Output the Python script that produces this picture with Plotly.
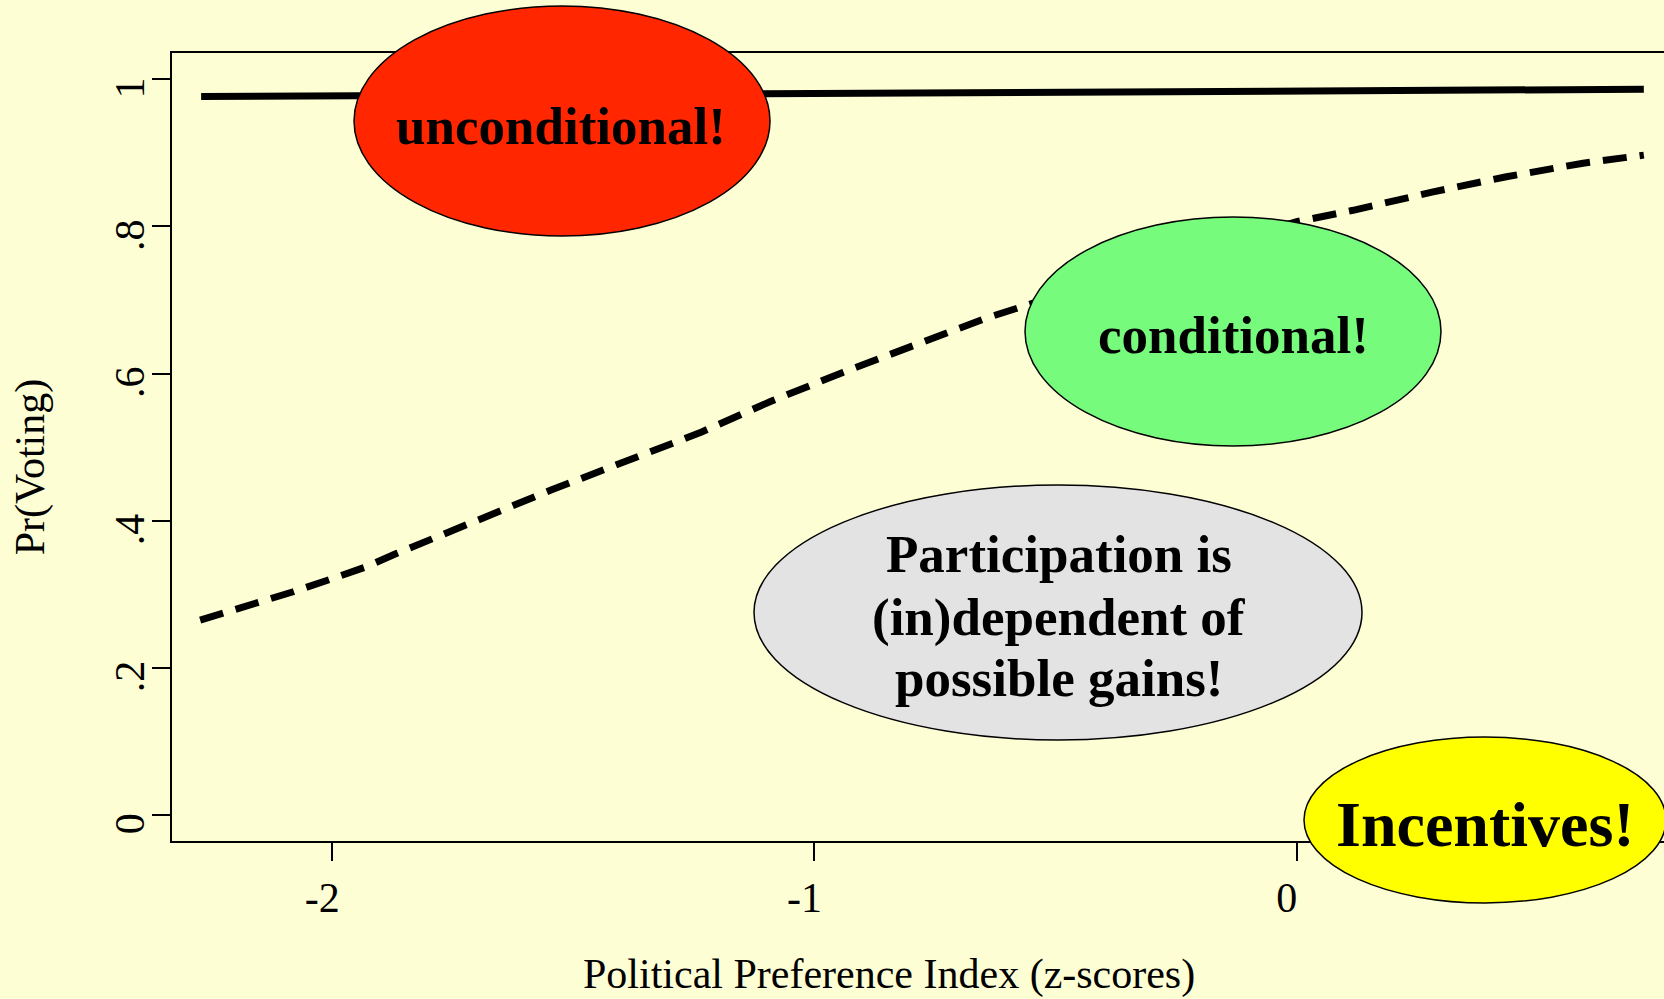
import plotly.graph_objects as go

# ---- data ----
x_solid = [-2.272, -1.9, -1.5, -1.086, -0.5, 0.0, 0.5, 0.72]
y_solid = [0.9765, 0.978, 0.979, 0.981, 0.982, 0.984, 0.9855, 0.9865]

x_dash = [-2.274, -2.174, -2.081, -1.998, -1.929, -1.866, -1.545, -1.234, -1.089,
          -0.940, -0.795, -0.646, -0.560, -0.28, 0.0, 0.117, 0.283, 0.435, 0.594, 0.72]
y_dash = [0.265, 0.284, 0.3035, 0.3217, 0.3375, 0.3557, 0.442, 0.5206, 0.5627,
          0.602, 0.639, 0.675, 0.693, 0.752, 0.8065, 0.822, 0.847, 0.8676, 0.886, 0.897]

x_ticks = [-2, -1, 0]
x_ticklabels = ["-2", "-1", "0"]
y_ticks = [0, 0.2, 0.4, 0.6, 0.8, 1]
y_ticklabels = ["0", ".2", ".4", ".6", ".8", "1"]

bubble_labels = ["unconditional!", "conditional!",
                 ["Participation is", "(in)dependent of", "possible gains!"],
                 "Incentives!"]

# ---- layout geometry (pixels) ----
W, H = 1664, 999
L, R, T, B = 172, 1664, 53, 841
BG = "#FEFED5"
FONT = "Liberation Serif, Times New Roman, serif"


def pxx(px):
    return (px - L) / (R - L)


def pxy(py):
    return (B - py) / (B - T)


fig = go.Figure()
fig.add_trace(go.Scatter(x=x_solid, y=y_solid, mode="lines",
                         line=dict(color="black", width=7), showlegend=False,
                         hoverinfo="skip"))
fig.add_trace(go.Scatter(x=x_dash, y=y_dash, mode="lines",
                         line=dict(color="black", width=7, dash="24px,13px"),
                         showlegend=False, hoverinfo="skip"))

# ellipses (pixel bounding boxes) and fills
bubbles = [
    ((354, 770, 6, 236), "#FF2600"),
    ((1025, 1441, 217, 446), "#76FB7C"),
    ((754, 1362, 485, 740), "#E3E3E3"),
    ((1304, 1666, 737, 903), "#FFFF00"),
]
shapes = []
for (x0, x1, y0, y1), col in bubbles:
    shapes.append(dict(type="circle", xref="paper", yref="paper", layer="above",
                       x0=pxx(x0), x1=pxx(x1), y0=pxy(y1), y1=pxy(y0),
                       fillcolor=col, line=dict(color="black", width=1.5)))

annotations = []
# text in bubbles: (center x px, middle y px, size, text)
texts = [
    (560.5, 125.8, 53, bubble_labels[0]),
    (1233.3, 335.2, 53, bubble_labels[1]),
    (1058.5, 553.5, 53, bubble_labels[2][0]),
    (1058.5, 617.0, 53, bubble_labels[2][1]),
    (1058.5, 677.5, 53, bubble_labels[2][2]),
    (1485.0, 824.4, 64, bubble_labels[3]),
]
for cx, cy, sz, txt in texts:
    annotations.append(dict(x=pxx(cx), y=pxy(cy), xref="paper", yref="paper",
                            text="<b>%s</b>" % txt, showarrow=False,
                            xanchor="center", yanchor="middle",
                            font=dict(family=FONT, size=sz, color="black")))

# axis titles
annotations.append(dict(x=pxx(889), y=pxy(974), xref="paper", yref="paper",
                        text="Political Preference Index (z-scores)", showarrow=False,
                        xanchor="center", yanchor="middle",
                        font=dict(family=FONT, size=42, color="black")))
annotations.append(dict(x=pxx(30.8), y=pxy(466.5), xref="paper", yref="paper",
                        text="Pr(Voting)", showarrow=False, textangle=-90,
                        xanchor="center", yanchor="middle",
                        font=dict(family=FONT, size=42, color="black")))

fig.update_layout(
    width=W, height=H,
    margin=dict(l=L, r=W - R, t=T, b=H - B, pad=0),
    paper_bgcolor=BG, plot_bgcolor=BG,
    shapes=shapes, annotations=annotations,
    font=dict(family=FONT, size=42, color="black"),
    showlegend=False,
)
fig.update_xaxes(
    range=[-2.3324, 0.7618], tickvals=x_ticks, ticktext=x_ticklabels,
    showgrid=False, zeroline=False, showline=True, linecolor="black", linewidth=2,
    mirror=True, ticks="outside", ticklen=18, tickwidth=2, tickcolor="black",
    tickfont=dict(family=FONT, size=42, color="black"), ticklabelshift=-10,
    ticklabelstandoff=1,
)
fig.update_yaxes(
    range=[-0.03534, 1.0358], tickvals=y_ticks, ticktext=y_ticklabels,
    showgrid=False, zeroline=False, showline=True, linecolor="black", linewidth=2,
    mirror=False, ticks="outside", ticklen=18, tickwidth=2, tickcolor="black",
    tickangle=-90, tickfont=dict(family=FONT, size=42, color="black"),
    ticklabelshift=15, ticklabelstandoff=-9,
)

fig.write_html("out.html", config={"displayModeBar": False},
               post_script="document.body.style.margin='0';"
                           "document.body.style.background='%s';" % BG)
